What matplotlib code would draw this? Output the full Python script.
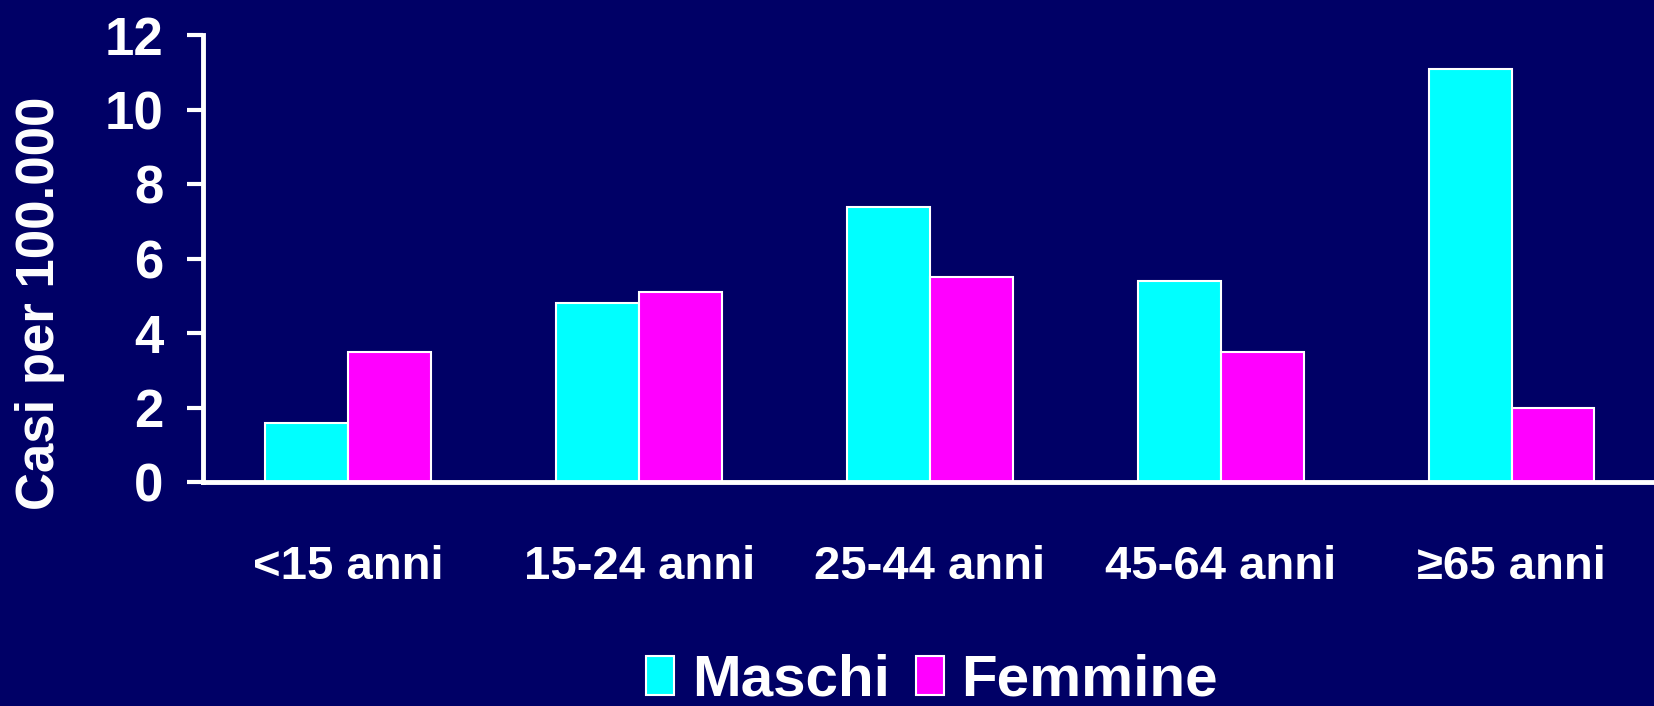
import matplotlib
matplotlib.use("Agg")
import matplotlib.pyplot as plt
from matplotlib import font_manager
import numpy as np

categories = ["<15 anni", "15-24 anni", "25-44 anni", "45-64 anni", "\u226565 anni"]
maschi = [1.6, 4.8, 7.4, 5.4, 11.1]
femmine = [3.5, 5.1, 5.5, 3.5, 2.0]
series_names = ["Maschi", "Femmine"]
yticks = [0, 2, 4, 6, 8, 10, 12]

BG = "#000066"
names = {f.name for f in font_manager.fontManager.ttflist}
HAS_NARROW = "Liberation Sans Narrow" in names
NARROW = "Liberation Sans Narrow" if HAS_NARROW else "Liberation Sans"
WIDE = "Liberation Sans"

fig = plt.figure(figsize=(16.54, 7.06), dpi=100, facecolor=BG)
ax = fig.add_axes([0.1227, 0.317, 0.8773, 0.633], facecolor=BG)

x = np.arange(len(categories))
w = 0.285
ax.bar(x - w / 2, maschi, w, color="#00FFFF", edgecolor="white", linewidth=1.5, label=series_names[0])
ax.bar(x + w / 2, femmine, w, color="#FF00FF", edgecolor="white", linewidth=1.5, label=series_names[1])

ax.set_xlim(-0.5, 4.49)
ax.set_ylim(0, 12)
ax.set_yticks(yticks)
ax.set_yticklabels([str(t) for t in yticks], fontsize=40 if HAS_NARROW else 38,
                   fontweight="bold", color="white", family=NARROW)
ax.set_xticks(x)
ax.set_xticklabels(categories, fontsize=34, fontweight="bold", color="white", family=WIDE)
ax.tick_params(axis="x", length=0, pad=45)
ax.tick_params(axis="y", length=11.5, width=3, color="white", pad=17, direction="out")

for s in ["top", "right"]:
    ax.spines[s].set_visible(False)
for s in ["left", "bottom"]:
    ax.spines[s].set_color("white")
    ax.spines[s].set_linewidth(3.5)

fig.text(40 / 1654, 0.571, "Casi per 100.000", rotation=90, ha="center", va="center",
         fontsize=45 if HAS_NARROW else 38, fontweight="bold", color="white", family=NARROW)

leg = fig.legend(loc="center", bbox_to_anchor=(932 / 1654, 1 - 681 / 706), ncol=2, frameon=False,
                 prop={"family": NARROW, "weight": "bold", "size": 42},
                 handlelength=0.48, handleheight=0.66, handletextpad=0.3, columnspacing=0.45,
                 borderpad=0, borderaxespad=0)
for t in leg.get_texts():
    t.set_color("white")

fig.savefig("out.png", dpi=100, facecolor=BG)
